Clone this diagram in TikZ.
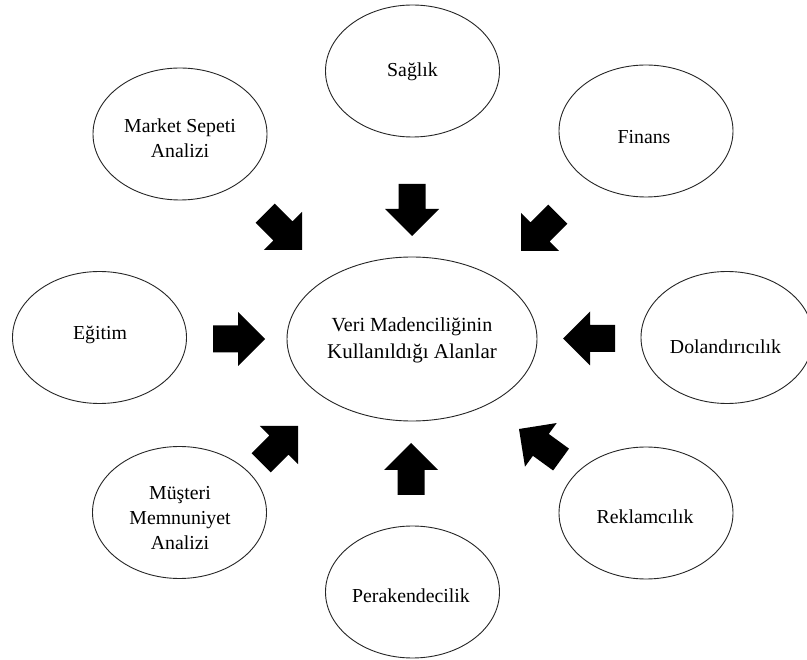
\documentclass[tikz,border=0pt]{standalone}
\usepackage{fontspec}
\setmainfont{Liberation Serif}
\usetikzlibrary{shapes.geometric}
\tikzset{
  area/.style={ellipse, draw=black!85, line width=0.9pt, minimum width=174pt, minimum height=132pt, inner sep=0pt},
  lbl/.style={font=\fontsize{19.8}{25}\selectfont, align=center, inner sep=0pt},
  barrow/.pic={\fill[black] (0,0) -- (-27,27) -- (-27,13.5) -- (-52,13.5) -- (-52,-13.5) -- (-27,-13.5) -- (-27,-27) -- cycle;}
}
\begin{document}
\begin{tikzpicture}[x=1pt,y=-1pt]
\useasboundingbox (0,0) rectangle (807,660);
\fill[white] (0,0) rectangle (807,660);
\clip (0,0) rectangle (807,660);

% centre
\node[area, minimum width=250pt, minimum height=164pt] (center) at (412,339) {};
\node[lbl, font=\fontsize{20}{27}\selectfont] (center-t) at (412,340) {Veri Madenciliğinin\\{\fontsize{21}{27}\selectfont Kullanıldığı Alanlar}};

% surrounding areas
\node[area] (market) at (180,134) {};
\node[lbl] (market-t) at (180,138.5) {Market Sepeti\\Analizi};

\node[area] (saglik) at (412.5,71) {};
\node[lbl] (saglik-t) at (412.5,72) {Sağlık};

\node[area] (finans) at (646,131) {};
\node[lbl] (finans-t) at (644,137) {Finans};

\node[area] (egitim) at (99.5,337.5) {};
\node[lbl] (egitim-t) at (100,335) {Eğitim};

\node[area, minimum width=172pt] (dolan) at (727,337.5) {};
\node[lbl] (dolan-t) at (725.5,347) {Dolandırıcılık};

\node[area] (musteri) at (179.5,512.5) {};
\node[lbl] (musteri-t) at (180,518) {Müşteri\\Memnuniyet\\Analizi};

\node[area] (perak) at (412.5,592) {};
\node[lbl] (perak-t) at (411,596) {Perakendecilik};

\node[area] (reklam) at (646,513) {};
\node[lbl] (reklam-t) at (645,517) {Reklamcılık};

% block arrows (tip position, direction)
\pic[rotate=-90] at (412,236) {barrow};
\pic[rotate=-45] at (302,250) {barrow};
\pic[rotate=-135] at (521,251) {barrow};
\pic[rotate=0] at (265,339) {barrow};
\pic[rotate=180] at (563,338.5) {barrow};
\pic[rotate=45] at (298,426) {barrow};
\pic[rotate=90] at (411,443) {barrow};
\pic[rotate=144] at (519,429) {barrow};
\end{tikzpicture}
\end{document}
